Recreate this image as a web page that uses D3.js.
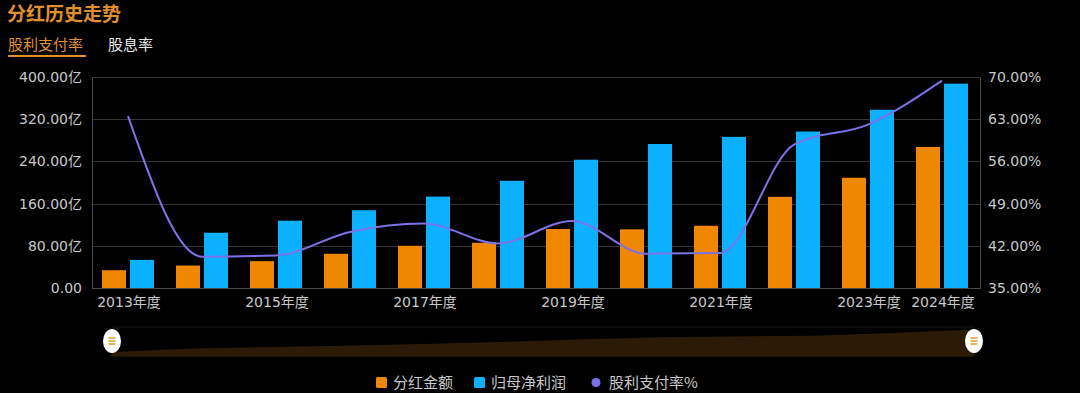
<!DOCTYPE html>
<html><head><meta charset="utf-8">
<script src="https://cdn.jsdelivr.net/npm/d3@7/dist/d3.min.js"></script>
<style>
html,body{margin:0;padding:0;background:#000;}
svg{display:block;}
</style></head>
<body>
<svg id="c" width="1080" height="393"></svg>
<script>
const years = ["2013年度","2014年度","2015年度","2016年度","2017年度","2018年度","2019年度","2020年度","2021年度","2022年度","2023年度","2024年度"];
const dividend = [33.7, 42.6, 50.9, 64.8, 80.0, 85.7, 111.8, 111.2, 118.0, 172.8, 209.0, 267.4];
const netProfit = [53.3, 104.8, 127.6, 147.4, 173.3, 203.2, 243.2, 273.0, 286.5, 296.6, 337.9, 387.4];
const payoutRatio = [63.5, 40.2, 40.4, 44.3, 45.7, 42.4, 46.1, 40.7, 40.8, 58.8, 62.1, 69.4];
const leftTicks = [0, 80, 160, 240, 320, 400];
const rightTicks = [35, 42, 49, 56, 63, 70];
const shownXLabels = ["2013年度","2015年度","2017年度","2019年度","2021年度","2023年度","2024年度"];
const seriesNames = ["分红金额","归母净利润","股利支付率%"];
const tabs = ["股利支付率","股息率"];
const title = "分红历史走势";

const C = {orange:"#ef8700", blue:"#0bb0ff", line:"#7c72e8", grid:"#333", axis:"#4a4a4a", text:"#c8c8c8", title:"#e0902a"};
const FONT = "'DejaVu Sans','Noto Sans CJK SC',sans-serif";
const CJK = "'Noto Sans CJK SC',sans-serif";

const svg = d3.select("#c");
const L = 92, R = 980, T = 77, B = 288;

// title & tabs
svg.append("text").attr("x", 7).attr("y", 21).text(title)
  .attr("fill", C.title).attr("font-family", CJK).attr("font-size", 19).attr("font-weight", "bold");
svg.append("text").attr("x", 8).attr("y", 50).text(tabs[0])
  .attr("fill", C.title).attr("font-family", CJK).attr("font-size", 15);
svg.append("rect").attr("x", 8).attr("y", 55).attr("width", 78).attr("height", 2).attr("fill", C.title);
svg.append("text").attr("x", 108).attr("y", 50).text(tabs[1])
  .attr("fill", "#e6e6e6").attr("font-family", CJK).attr("font-size", 15);

// scales
const x = d3.scaleBand().domain(years).range([L, R]).padding(0);
const xs = d3.scaleBand().domain(["d","p"]).range([0, x.bandwidth()]).paddingInner(4/28).paddingOuter(11/28);
const yL = d3.scaleLinear().domain([0, 400]).range([B, T]);
const yR = d3.scaleLinear().domain([35, 70]).range([B, T]);

// grid
svg.append("g").selectAll("line").data(leftTicks.slice(1)).join("line")
  .attr("x1", L).attr("x2", R).attr("y1", d => Math.round(yL(d)) + 0.5).attr("y2", d => Math.round(yL(d)) + 0.5)
  .attr("stroke", C.grid).attr("stroke-width", 1);

// left axis
const gL = svg.append("g").attr("transform", `translate(${L},0)`)
  .call(d3.axisLeft(yL).tickValues(leftTicks).tickSize(0).tickPadding(10)
    .tickFormat(d => d === 0 ? "0.00" : d.toFixed(2) + "亿"));
gL.select(".domain").attr("stroke", C.axis);
gL.selectAll("text").attr("fill", C.text).attr("font-family", FONT).attr("font-size", 14);

// right axis
const gR = svg.append("g").attr("transform", `translate(${R},0)`)
  .call(d3.axisRight(yR).tickValues(rightTicks).tickSize(0).tickPadding(8)
    .tickFormat(d => d.toFixed(2) + "%"));
gR.select(".domain").attr("stroke", C.axis);
gR.selectAll("text").attr("fill", C.text).attr("font-family", FONT).attr("font-size", 14);

// bottom axis
const gB = svg.append("g").attr("transform", `translate(0,${B})`)
  .call(d3.axisBottom(x).tickSize(0).tickPadding(9).tickFormat(d => shownXLabels.includes(d) ? d : ""));
gB.select(".domain").attr("stroke", C.axis);
gB.selectAll("text").attr("fill", C.text).attr("font-family", FONT).attr("font-size", 14);

// bars
const bars = svg.append("g");
bars.selectAll("rect.d").data(years).join("rect").attr("class","d")
  .attr("x", (d) => x(d) + xs("d") - 1).attr("width", xs.bandwidth())
  .attr("y", (d,i) => yL(dividend[i])).attr("height", (d,i) => B - yL(dividend[i]))
  .attr("fill", C.orange);
bars.selectAll("rect.p").data(years).join("rect").attr("class","p")
  .attr("x", (d) => x(d) + xs("p") - 1).attr("width", xs.bandwidth())
  .attr("y", (d,i) => yL(netProfit[i])).attr("height", (d,i) => B - yL(netProfit[i]))
  .attr("fill", C.blue);

// line
const line = d3.line().curve(d3.curveMonotoneX)
  .x((d,i) => x(years[i]) + x.bandwidth()/2 - 1).y(d => yR(d));
svg.append("path").datum(payoutRatio).attr("d", line)
  .attr("fill", "none").attr("stroke", C.line).attr("stroke-width", 2);

// data zoom slider
const sL = 112, sR = 974, sT = 327, sB = 356;
const sx = d3.scalePoint().domain(years).range([sL, sR]);
const sy = d3.scaleLinear().domain([0, d3.max(netProfit)]).range([sB, sT + 3]);
svg.append("rect").attr("x", sL).attr("y", sT).attr("width", sR - sL).attr("height", sB - sT)
  .attr("fill", "none").attr("stroke", "#161616");
const area = d3.area().x((d,i) => sx(years[i])).y0(sB).y1(d => sy(d));
svg.append("path").datum(netProfit).attr("d", area).attr("fill", "#2a1a06").attr("stroke", "#3a2608").attr("stroke-width", 0.5);
[sL, sR].forEach(cx => {
  const g = svg.append("g").attr("transform", `translate(${cx},341)`);
  g.append("ellipse").attr("rx", 9).attr("ry", 12).attr("fill", "#fff");
  [-3, 0, 3].forEach(dy => g.append("rect").attr("x", -3.5).attr("y", dy - 0.75).attr("width", 7).attr("height", 1.5).attr("fill", "#e0a020"));
});

// legend
const leg = svg.append("g").attr("font-family", CJK).attr("font-size", 15).attr("fill", C.text);
const legItems = [
  {name: seriesNames[0], color: C.orange, type: "rect", x: 376},
  {name: seriesNames[1], color: C.blue, type: "rect", x: 474},
  {name: seriesNames[2], color: C.line, type: "circle", x: 591}
];
legItems.forEach(it => {
  if (it.type === "rect") {
    leg.append("rect").attr("x", it.x).attr("y", 377).attr("width", 11).attr("height", 11).attr("rx", 1.5).attr("fill", it.color);
    leg.append("text").attr("x", it.x + 17).attr("y", 388).text(it.name);
  } else {
    leg.append("circle").attr("cx", it.x + 5).attr("cy", 382.5).attr("r", 4.5).attr("fill", it.color);
    leg.append("text").attr("x", it.x + 18).attr("y", 388).text(it.name);
  }
});
</script>
</body></html>
